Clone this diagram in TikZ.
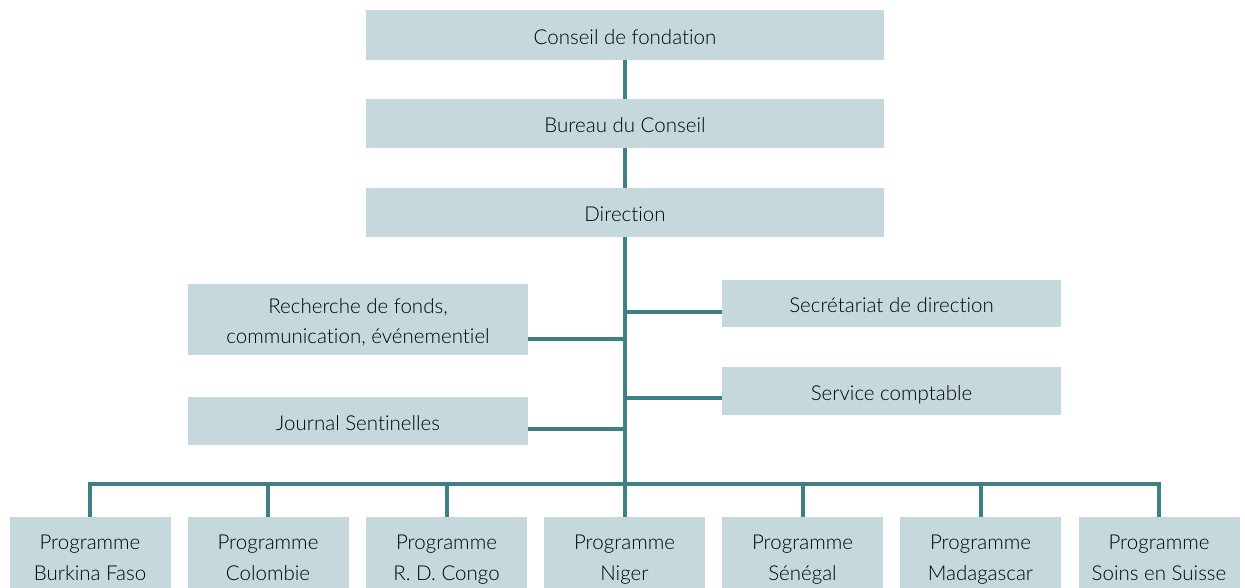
\documentclass[tikz,border=0pt]{standalone}
\usepackage{fontspec}
\IfFontExistsTF{Lato Light}{\setmainfont{Lato Light}[Ligatures=NoCommon]}{\setmainfont{Lato}[Ligatures=NoCommon]}
\definecolor{boxfill}{HTML}{C5D9DC}
\definecolor{linecol}{HTML}{3E8086}
\begin{document}
\begin{tikzpicture}[x=1pt,y=-1pt,
  orgbox/.style={fill=boxfill,draw=none,inner sep=0pt,align=center,font=\fontsize{20.5}{30.5}\selectfont},
  onebox/.style={orgbox,text height=22pt,text depth=4pt},
  twobox/.style={orgbox,text height=52pt,text depth=4pt},
  progbox/.style={orgbox,minimum width=161pt,minimum height=82pt,text height=49pt,text depth=5pt},
  conn/.style={draw=linecol,line width=4pt}]
\useasboundingbox (0,0) rectangle (1245,587);
\clip (0,0) rectangle (1245,587);
% top
\node[onebox,minimum width=518pt,minimum height=50pt] (cf) at (625,35) {Conseil de fondation};
\node[onebox,minimum width=518pt,minimum height=49pt] (bc) at (625,123.5) {Bureau du Conseil};
\node[onebox,minimum width=518pt,minimum height=49pt] (dir) at (625,212.5) {Direction};
% side
\node[twobox,minimum width=340pt,minimum height=71pt] (rf) at (358,319.5) {Recherche de fonds,\\communication, événementiel};
\node[onebox,minimum width=340pt,minimum height=48pt] (js) at (358,421) {Journal Sentinelles};
\node[onebox,minimum width=339pt,minimum height=47pt] (sd) at (891.5,303.5) {Secrétariat de direction};
\node[onebox,minimum width=339pt,minimum height=48pt] (sc) at (891.5,391) {Service comptable};
% bottom
\foreach \n/\x/\t in {p1/90/Burkina Faso,p2/268/Colombie,p3/446.5/R. D. Congo,p4/624.5/Niger,p5/802.5/Sénégal,p6/980.5/Madagascar,p7/1159/Soins en Suisse}{
  \node[progbox] (\n) at (\x,558) {Programme\\\t};
}
% spine coordinates
\coordinate (s1) at (625,312);
\coordinate (s2) at (625,339);
\coordinate (s3) at (625,398);
\coordinate (s4) at (625,429);
\coordinate (bus) at (625,484);
% connectors
\draw[conn] (cf.south) -- (bc.north);
\draw[conn] (bc.south) -- (dir.north);
\draw[conn] (dir.south) -- (bus);
\draw[conn] (s1) -- (sd.west |- s1);
\draw[conn] (s3) -- (sc.west |- s3);
\draw[conn] (s2) -- (rf.east |- s2);
\draw[conn] (s4) -- (js.east |- s4);
\draw[conn,line cap=rect] (p1.north |- bus) -- (p7.north |- bus);
\foreach \n in {p1,p2,p3,p4,p5,p6,p7}{
  \draw[conn] (\n.north |- bus) -- (\n.north);
}
\end{tikzpicture}
\end{document}
